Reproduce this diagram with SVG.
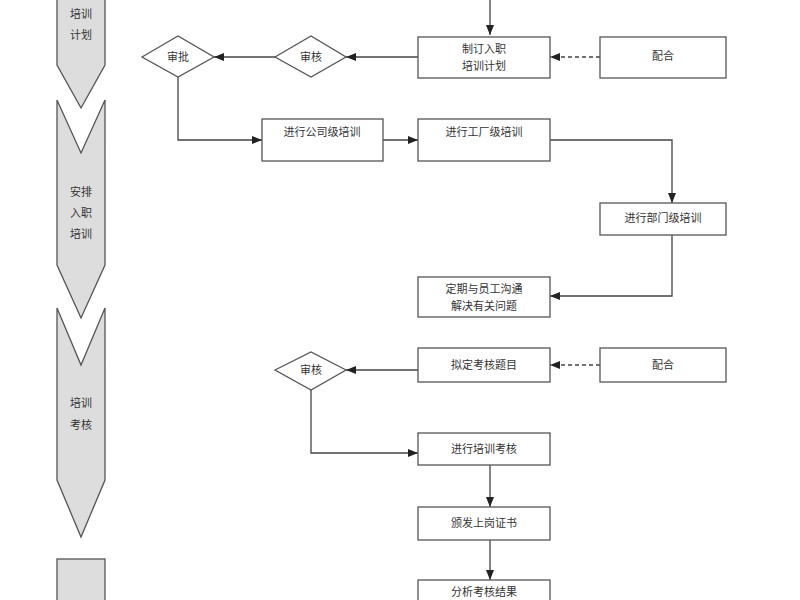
<svg xmlns="http://www.w3.org/2000/svg" width="800" height="600" viewBox="0 0 800 600">
<style>
text{font-family:"Liberation Serif","Noto Sans CJK SC",serif;font-size:11px;fill:#333;text-anchor:middle}
.b{fill:#fff;stroke:#555;stroke-width:1.3}
.c{fill:#ddd;stroke:#555;stroke-width:1.3}
.l{fill:none;stroke:#444;stroke-width:1.3}
.d{stroke-dasharray:4,3}
</style>
<defs><marker id="a" viewBox="0 0 10 10" refX="10" refY="5" markerWidth="8" markerHeight="8" orient="auto"><path d="M0,1L10,5L0,9z" fill="#222"/></marker></defs>
<g id="phase1"><path class="c" d="M57,-5H105V65L81,108L57,65Z"/><text x="81" y="18">培训</text><text x="81" y="39">计划</text></g>
<g id="phase2"><path class="c" d="M57,100L81,153L105,100V265L81,318L57,265Z"/><text x="81" y="196">安排</text><text x="81" y="217">入职</text><text x="81" y="238">培训</text></g>
<g id="phase3"><path class="c" d="M57,308L81,365L105,308V480L81,537L57,480Z"/><text x="81" y="407">培训</text><text x="81" y="429">考核</text></g>
<g id="phase4"><rect class="c" x="57" y="559" width="48" height="50"/></g>
<g id="connectors">
<path class="l" d="M490,0V35" marker-end="url(#a)"/>
<path class="l d" d="M600,57H550" marker-end="url(#a)"/>
<path class="l" d="M418,57H346" marker-end="url(#a)"/>
<path class="l" d="M275,57H214" marker-end="url(#a)"/>
<path class="l" d="M178,77V140H262" marker-end="url(#a)"/>
<path class="l" d="M383,140H418" marker-end="url(#a)"/>
<path class="l" d="M550,140H672V203" marker-end="url(#a)"/>
<path class="l" d="M672,235V296H550" marker-end="url(#a)"/>
<path class="l d" d="M600,365H550" marker-end="url(#a)"/>
<path class="l" d="M418,370H346" marker-end="url(#a)"/>
<path class="l" d="M311,390V453H418" marker-end="url(#a)"/>
<path class="l" d="M490,465V507" marker-end="url(#a)"/>
<path class="l" d="M490,540V580" marker-end="url(#a)"/>
</g>
<g id="n1"><rect class="b" x="418" y="37" width="132" height="41"/><text x="484" y="53">制订入职</text><text x="484" y="70">培训计划</text></g>
<g id="n2"><rect class="b" x="600" y="37" width="126" height="41"/><text x="663" y="60">配合</text></g>
<g id="n3"><path class="b" d="M142,57L178,36L214,57L178,77Z"/><text x="178" y="61">审批</text></g>
<g id="n4"><path class="b" d="M275,57L311,36L346,57L311,77Z"/><text x="311" y="61">审核</text></g>
<g id="n5"><rect class="b" x="262" y="119" width="121" height="42"/><text x="322" y="136">进行公司级培训</text></g>
<g id="n6"><rect class="b" x="418" y="119" width="132" height="42"/><text x="484" y="136">进行工厂级培训</text></g>
<g id="n7"><rect class="b" x="600" y="203" width="126" height="32"/><text x="663" y="222">进行部门级培训</text></g>
<g id="n8"><rect class="b" x="418" y="277" width="132" height="40"/><text x="484" y="293">定期与员工沟通</text><text x="484" y="310">解决有关问题</text></g>
<g id="n9"><rect class="b" x="418" y="348" width="132" height="34"/><text x="484" y="369">拟定考核题目</text></g>
<g id="n10"><rect class="b" x="600" y="348" width="126" height="34"/><text x="663" y="369">配合</text></g>
<g id="n11"><path class="b" d="M275,370L311,352L346,370L311,390Z"/><text x="311" y="374">审核</text></g>
<g id="n12"><rect class="b" x="418" y="433" width="132" height="32"/><text x="484" y="453">进行培训考核</text></g>
<g id="n13"><rect class="b" x="418" y="507" width="132" height="33"/><text x="484" y="527">颁发上岗证书</text></g>
<g id="n14"><rect class="b" x="418" y="580" width="132" height="30"/><text x="484" y="596">分析考核结果</text></g>
</svg>
